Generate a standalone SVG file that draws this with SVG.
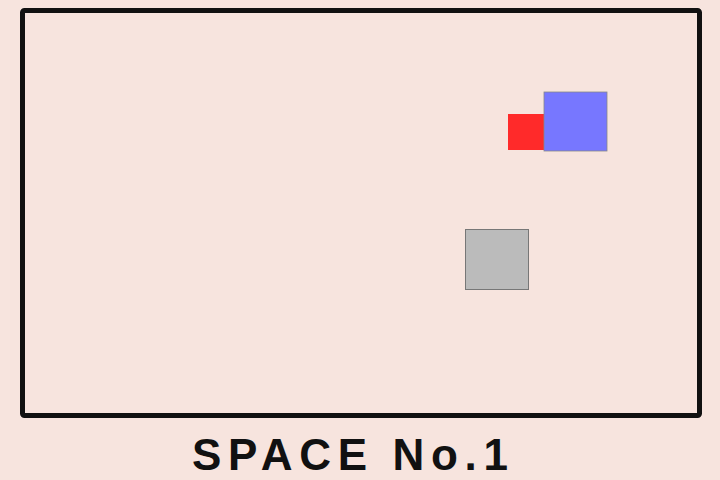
<svg xmlns="http://www.w3.org/2000/svg" width="720" height="480" viewBox="0 0 720 480">
<style>
.frame{fill:none;stroke:#111;stroke-width:5;stroke-linejoin:round}
.label{font-family:"Liberation Sans",Arial,sans-serif;font-weight:bold;font-size:44px;fill:#111}
</style>
<rect x="0" y="0" width="720" height="480" fill="#f7e4de"/>
<g id="space">
<rect class="frame" x="22.5" y="10.5" width="677" height="405" rx="2"/>
</g>
<g id="red-box"><rect x="508" y="114" width="37" height="36" fill="#ff2a2a"/></g>
<g id="blue-box"><rect x="544" y="92" width="63" height="59" fill="#7777ff" stroke="#888" stroke-width="0.8"/></g>
<g id="gray-box"><rect x="465.5" y="229.5" width="63" height="60" fill="#bbbbbb" stroke="#777" stroke-width="1"/></g>
<g id="title"><text class="label" x="192" y="470" textLength="316" lengthAdjust="spacing">SPACE No.1</text></g>
</svg>
